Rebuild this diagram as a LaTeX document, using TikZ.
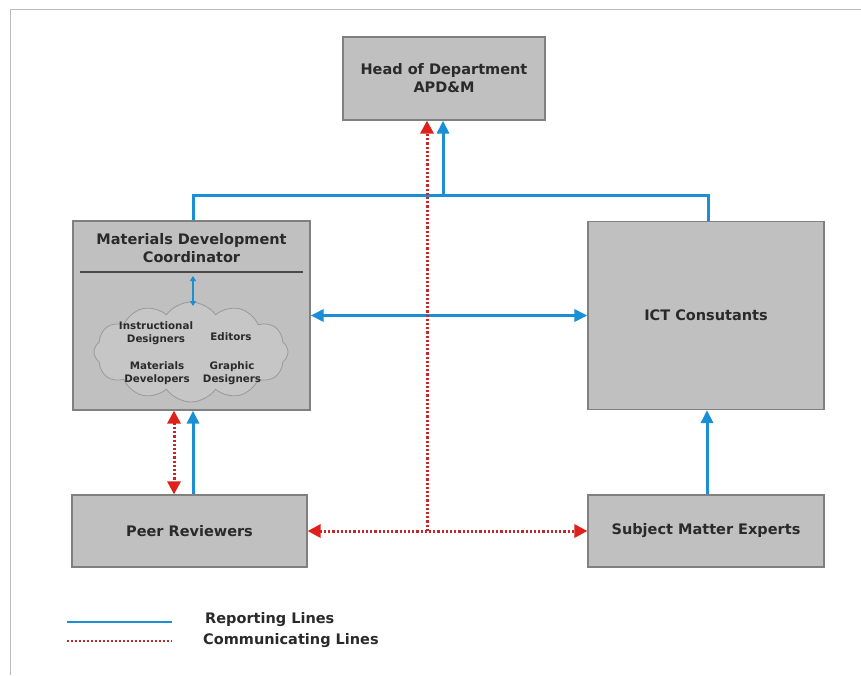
\documentclass[tikz,border=0pt]{standalone}
\usepackage{fontspec}
\setmainfont{DejaVu Sans}
\usetikzlibrary{arrows.meta,shapes.symbols,calc}
\definecolor{boxgray}{HTML}{C0C0C0}
\definecolor{boxedge}{HTML}{808080}
\definecolor{repblue}{HTML}{1A8FD6}
\definecolor{comred}{HTML}{C0282A}
\definecolor{tipred}{HTML}{E0201A}
\definecolor{txt}{HTML}{2A2A2A}
\definecolor{framegray}{HTML}{BBBBBB}
\tikzset{
  orgbox/.style={draw=boxedge, line width=1.2pt, fill=boxgray, text=txt, align=center,
    font=\bfseries\fontsize{14.5}{18}\selectfont, inner sep=0pt},
  cloudtxt/.style={text=txt, align=center, font=\bfseries\fontsize{10.3}{13}\selectfont, inner sep=0pt},
  legtxt/.style={text=txt, anchor=west, font=\bfseries\fontsize{14.5}{18}\selectfont, inner sep=0pt},
  rep/.style={draw=repblue, line width=3pt},
  com/.style={draw=comred, line width=3pt, dash pattern=on 2.2pt off 2pt},
  btip/.style={-{Triangle[length=13pt,width=12pt]}},
  bbtip/.style={{Triangle[length=13pt,width=12pt]}-{Triangle[length=13pt,width=12pt]}},
  rtip/.style={-{Triangle[length=13pt,width=13pt,color=tipred]}},
  rrtip/.style={{Triangle[length=13pt,width=13pt,color=tipred]}-{Triangle[length=13pt,width=13pt,color=tipred]}},
}
\begin{document}
\begin{tikzpicture}[x=1pt,y=-1pt]
\useasboundingbox (0,0) rectangle (861,675);
\fill[white] (0,0) rectangle (861,675);
% frame
\draw[framegray, line width=1pt] (10,675) -- (10,9) -- (861,9);

% boxes
\node[orgbox, minimum width=202pt, minimum height=83pt] (head) at (444,78.5) {Head of Department\\APD\&M};
\node[orgbox, minimum width=237pt, minimum height=189pt] (mdc) at (191.5,315.5) {};
\node[text=txt, align=center, font=\bfseries\fontsize{14.5}{18}\selectfont, inner sep=0pt] (mdctitle) at (191.5,248) {Materials Development\\Coordinator};
\node[orgbox, minimum width=236pt, minimum height=188pt] (ict) at (706,315.5) {ICT Consutants};
\node[orgbox, minimum width=235pt, minimum height=72pt] (peer) at (189.5,531) {Peer Reviewers};
\node[orgbox, minimum width=236pt, minimum height=72pt] (sme) at (706,531) {Subject Matter Experts};

% inside MDC
\coordinate (sepl) at (80,272);
\coordinate (sepr) at (303,272);
\draw[txt!85, line width=1.5pt] (sepl) -- (sepr);
\node[cloud, cloud puffs=12, cloud puff arc=110, cloud ignores aspect, draw=boxedge!80, line width=0.8pt,
  fill=boxgray!90!white, minimum width=194pt, minimum height=100pt, inner sep=0pt] (team) at (191,352) {};
\draw[repblue, line width=1.3pt, {Triangle[length=5pt,width=6pt]}-{Triangle[length=5pt,width=6pt]}]
  (193,276) -- (193,306);
\node[cloudtxt] (id) at (156,333) {Instructional\\Designers};
\node[cloudtxt] (ed) at (231,337) {Editors};
\node[cloudtxt] (md) at (157,373) {Materials\\Developers};
\node[cloudtxt] (gd) at (232,373) {Graphic\\Designers};

% reporting lines
\coordinate (jb) at (443,195);
\draw[rep] ([xshift=1.5pt]mdc.north) |- (jb) -| ([xshift=2pt]ict.north);
\draw[rep, btip] (jb) -- (jb |- head.south);
\draw[rep, bbtip] (mdc.east) -- (mdc.east -| ict.west);
\coordinate (pb) at ([xshift=1.5pt]mdc.south);
\draw[rep, btip] (pb |- peer.north) -- (pb);
\coordinate (sb) at ([xshift=1pt]sme.north);
\draw[rep, btip] (sb) -- (sb |- ict.south);

% communicating lines
\coordinate (jr) at (427,531);
\draw[com, rtip] (jr) -- (jr |- head.south);
\draw[com, rrtip] (peer.east) -- (sme.west);
\coordinate (pr) at ([xshift=-17.5pt]mdc.south);
\draw[com, rrtip] (pr) -- (pr |- peer.north);

% legend
\coordinate (lb1) at (67,622);
\coordinate (lb2) at (172,622);
\coordinate (lr1) at (67,641);
\coordinate (lr2) at (172,641);
\draw[rep, line width=2.8pt] (lb1) -- (lb2);
\draw[com, line width=2.2pt, dash pattern=on 2pt off 2pt] (lr1) -- (lr2);
\node[legtxt] (lrep) at (205,620) {Reporting Lines};
\node[legtxt] (lcom) at (203,641) {Communicating Lines};
\end{tikzpicture}
\end{document}
